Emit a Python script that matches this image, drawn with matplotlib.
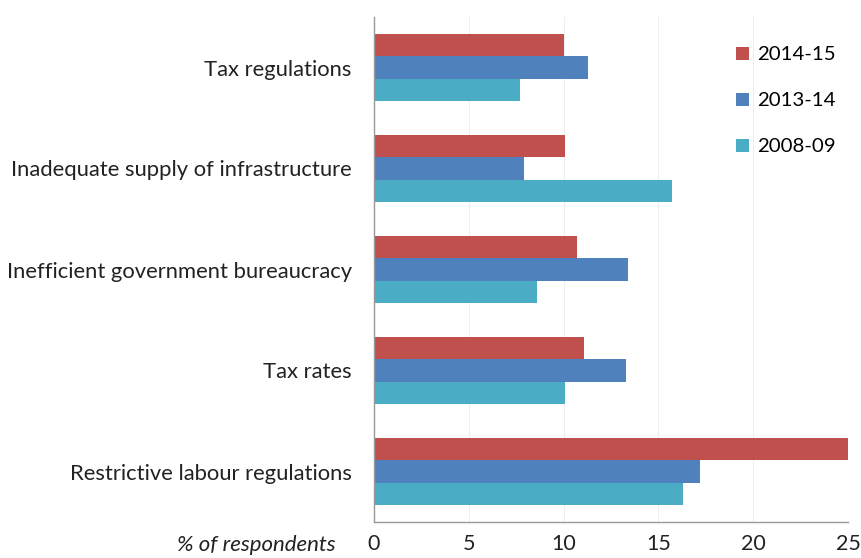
import numpy as np
import matplotlib.pyplot as plt

# survey data, % of respondents naming each constraint
categories = ["Tax regulations", "Inadequate supply of infrastructure",
              "Inefficient government bureaucracy", "Tax rates",
              "Restrictive labour regulations"]
years = ["2014-15", "2013-14", "2008-09"]
val_2014_15 = [10.0, 10.1, 10.7, 11.1, 25.0]
val_2013_14 = [11.3, 7.9, 13.4, 13.3, 17.2]
val_2008_09 = [7.7, 15.7, 8.6, 10.1, 16.3]
xticks = [0, 5, 10, 15, 20, 25]

colors = ["#C0504D", "#4F81BD", "#4BACC6"]

plt.rcParams['font.family'] = ['Lato', 'DejaVu Sans']

fig = plt.figure(figsize=(8.61, 5.58), dpi=100)
ax = fig.add_axes([374 / 861, 1 - 522 / 558, (848 - 374) / 861, (522 - 17) / 558])

y = np.arange(len(categories))[::-1]
h = 0.22
series = [val_2014_15, val_2013_14, val_2008_09]
for i, (vals, col, lab) in enumerate(zip(series, colors, years)):
    ax.barh(y + (1 - i) * h, vals, height=h, color=col, label=lab, zorder=2)

ax.set_xlim(0, 25)
ax.set_ylim(-0.5, 4.5)
ax.set_yticks(y)
ax.set_yticklabels(categories, fontsize=15.8, color="#222222")
ax.set_xticks(xticks)
ax.set_xticklabels([str(t) for t in xticks], fontsize=15.5, color="#222222")
ax.tick_params(axis="y", length=0, pad=16)
ax.tick_params(axis="x", length=0, pad=9)
ax.grid(axis="x", color="#EEEEEE", linewidth=0.8, zorder=0)

for s in ["top", "right"]:
    ax.spines[s].set_visible(False)
for s in ["left", "bottom"]:
    ax.spines[s].set_color("#999999")
    ax.spines[s].set_linewidth(1.0)

fig.text(336 / 861, 1 - 545 / 558, "% of respondents", fontsize=16,
         style="italic", ha="right", va="center", color="#222222")

ax.legend(loc="upper right", bbox_to_anchor=(1.012, 0.978), frameon=False,
          fontsize=14.7, handlelength=0.6, handleheight=0.6, handletextpad=0.4,
          labelspacing=1.42)

fig.savefig("out.png", dpi=100)
